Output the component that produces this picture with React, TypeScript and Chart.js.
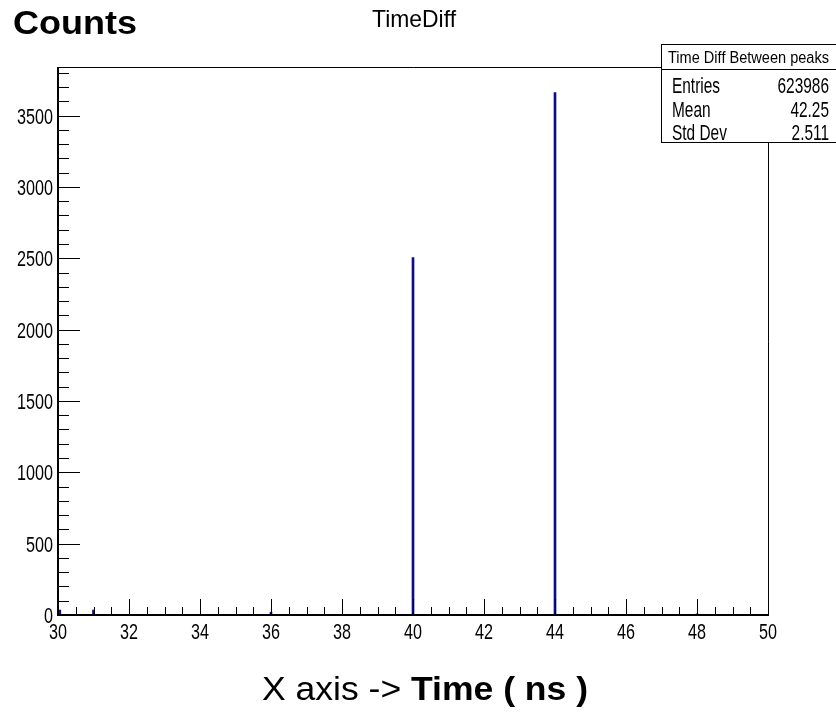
import React, { useEffect, useRef } from "react";
import { Chart, registerables } from "chart.js";

Chart.register(...registerables);

// ---- data ----
const binCenters = [30.05, 31.0, 36.0, 40.0, 44.0, 48.0];
const binCounts = [35, 35, 20, 2505, 3660, 8];
const xTickValues = [30, 32, 34, 36, 38, 40, 42, 44, 46, 48, 50];
const yTickValues = [0, 500, 1000, 1500, 2000, 2500, 3000, 3500];
const statsTitle = "Time Diff Between peaks";
const statsLabels = ["Entries", "Mean", "Std Dev"];
const statsValues = ["623986", "42.25", "2.511"];
const chartTitle = "TimeDiff";
const yTitle = "Counts";
const xTitleRegular = "X axis -> ";
const xTitleBold = "Time ( ns )";

const SANS = "'Liberation Sans', Arial, sans-serif";
const BAR_COLOR = "#0c0c8c";

// draw text horizontally scaled (to imitate the narrow Helvetica of the original)
function drawScaled(
  ctx: CanvasRenderingContext2D,
  text: string,
  x: number,
  y: number,
  align: "left" | "right" | "center",
  sx: number
) {
  const w = ctx.measureText(text).width * sx;
  let x0 = x;
  if (align === "right") x0 = x - w;
  else if (align === "center") x0 = x - w / 2;
  ctx.save();
  ctx.translate(x0, y);
  ctx.scale(sx, 1);
  ctx.textAlign = "left";
  ctx.fillText(text, 0, 0);
  ctx.restore();
}

const decorPlugin = {
  id: "rootDecor",
  afterDraw(chart: any) {
    const ctx = chart.ctx as CanvasRenderingContext2D;
    const { left, right, top, bottom } = chart.chartArea;
    const xs = chart.scales.x;
    const ys = chart.scales.y;
    ctx.save();
    ctx.strokeStyle = "#000";
    ctx.fillStyle = "#000";
    ctx.textBaseline = "alphabetic";

    // frame: top & right thin
    ctx.lineWidth = 1;
    ctx.beginPath();
    ctx.moveTo(left, top + 0.5);
    ctx.lineTo(right + 0.5, top + 0.5);
    ctx.lineTo(right + 0.5, bottom);
    ctx.stroke();
    // axes: left & bottom thicker
    ctx.lineWidth = 2;
    ctx.beginPath();
    ctx.moveTo(left, top);
    ctx.lineTo(left, bottom);
    ctx.lineTo(right + 1, bottom);
    ctx.stroke();

    // x ticks inward
    ctx.lineWidth = 1;
    ctx.beginPath();
    for (let i = 0; i <= 40; i++) {
      const v = 30 + i * 0.5;
      const px = Math.round(xs.getPixelForValue(v)) + 0.5;
      const len = i % 4 === 0 ? 16 : 8;
      ctx.moveTo(px, bottom);
      ctx.lineTo(px, bottom - len);
    }
    // y ticks inward
    for (let v = 0; v <= ys.max; v += 100) {
      const py = Math.round(ys.getPixelForValue(v)) + 0.5;
      const len = v % 500 === 0 ? 22 : 11;
      ctx.moveTo(left, py);
      ctx.lineTo(left + len, py);
    }
    ctx.stroke();

    // tick labels (narrow Helvetica look)
    ctx.font = `22px ${SANS}`;
    const tickSx = 36 / ctx.measureText("3500").width;
    xs.ticks.forEach((t: any) => {
      drawScaled(ctx, String(t.value), xs.getPixelForValue(t.value), 639, "center", tickSx);
    });
    ys.ticks.forEach((t: any) => {
      drawScaled(ctx, String(t.value), 53, ys.getPixelForValue(t.value) + 8, "right", tickSx);
    });

    // "Counts"
    ctx.font = `bold 34px ${SANS}`;
    drawScaled(ctx, yTitle, 13, 34, "left", 124 / ctx.measureText(yTitle).width);

    // "TimeDiff"
    ctx.font = `24px ${SANS}`;
    drawScaled(ctx, chartTitle, 414, 27, "center", 84 / ctx.measureText(chartTitle).width);

    // x axis title (mixed weight)
    ctx.font = `34px ${SANS}`;
    const w1 = ctx.measureText(xTitleRegular).width;
    ctx.font = `bold 34px ${SANS}`;
    const w2 = ctx.measureText(xTitleBold).width;
    const xsx = 326 / (w1 + w2);
    const startX = 425 - ((w1 + w2) * xsx) / 2;
    ctx.font = `34px ${SANS}`;
    drawScaled(ctx, xTitleRegular, startX, 700, "left", xsx);
    ctx.font = `bold 34px ${SANS}`;
    drawScaled(ctx, xTitleBold, startX + w1 * xsx, 700, "left", xsx);

    // stats box
    const bx = 661.5, by = 44.5, bw = 180, bh = 98;
    ctx.fillStyle = "#fff";
    ctx.fillRect(bx, by, bw, bh);
    ctx.fillStyle = "#000";
    ctx.lineWidth = 1;
    ctx.strokeRect(bx, by, bw, bh);
    ctx.beginPath();
    ctx.moveTo(bx, 69.5);
    ctx.lineTo(bx + bw, 69.5);
    ctx.stroke();
    ctx.font = `16px ${SANS}`;
    drawScaled(ctx, statsTitle, 748.5, 63, "center", 161 / ctx.measureText(statsTitle).width);
    ctx.font = `22px ${SANS}`;
    const rowSx = 48 / ctx.measureText("Entries").width;
    const baselines = [93, 117, 140];
    statsLabels.forEach((lab, i) => {
      drawScaled(ctx, lab, 672, baselines[i], "left", rowSx);
      drawScaled(ctx, statsValues[i], 829, baselines[i], "right", rowSx);
    });
    ctx.restore();
  },
};

export default function App() {
  const ref = useRef<HTMLCanvasElement | null>(null);
  useEffect(() => {
    if (!ref.current) return;
    const chart = new Chart(ref.current, {
      type: "bar",
      data: {
        datasets: [
          {
            label: "TimeDiff",
            data: binCenters.map((x, i) => ({ x, y: binCounts[i] })),
            backgroundColor: BAR_COLOR,
            borderWidth: 0,
            barThickness: 2,
            grouped: false,
          } as any,
        ],
      },
      options: {
        responsive: false,
        animation: false,
        layout: { padding: { left: 8, top: 67, right: 68, bottom: 0 } },
        plugins: { legend: { display: false }, tooltip: { enabled: false }, title: { display: false } },
        scales: {
          x: {
            type: "linear",
            min: 30,
            max: 50,
            offset: false,
            grid: { display: false, drawTicks: false },
            border: { display: false },
            afterBuildTicks: (s: any) => {
              s.ticks = xTickValues.map((v) => ({ value: v }));
            },
            afterFit: (s: any) => {
              s.height = 99;
            },
            ticks: { display: false, autoSkip: false },
          },
          y: {
            type: "linear",
            min: 0,
            max: 3840,
            grid: { display: false, drawTicks: false },
            border: { display: false },
            afterBuildTicks: (s: any) => {
              s.ticks = yTickValues.map((v) => ({ value: v }));
            },
            afterFit: (s: any) => {
              s.width = 50;
            },
            ticks: { display: false, autoSkip: false },
          },
        },
      } as any,
      plugins: [decorPlugin],
    });
    return () => chart.destroy();
  }, []);
  return (
    <div style={{ position: "absolute", left: 0, top: 0, width: 836, height: 714, background: "#fff" }}>
      <canvas ref={ref} width={836} height={714} style={{ display: "block" }} />
    </div>
  );
}
